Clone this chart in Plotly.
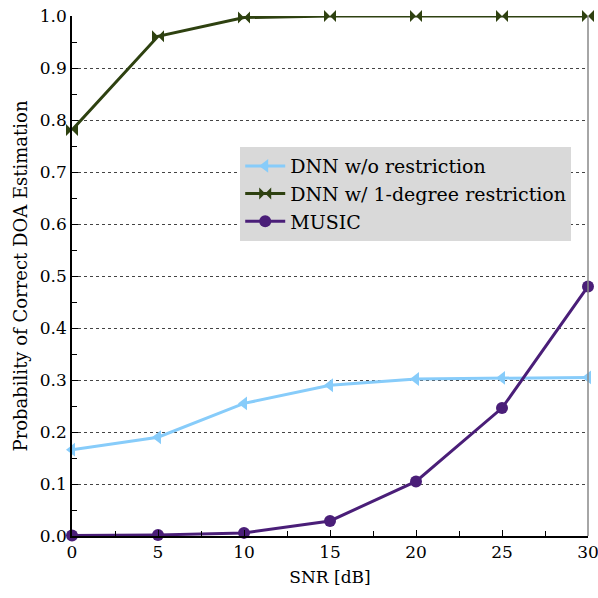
import plotly.graph_objects as go

snr = [0, 5, 10, 15, 20, 25, 30]
dnn_wo = [0.166, 0.19, 0.255, 0.29, 0.302, 0.304, 0.305]
dnn_1deg = [0.781, 0.961, 0.997, 1.0, 1.0, 1.0, 1.0]
music = [0.001, 0.002, 0.006, 0.029, 0.105, 0.246, 0.480]

y_ticks = [0.0, 0.1, 0.2, 0.3, 0.4, 0.5, 0.6, 0.7, 0.8, 0.9, 1.0]
y_tick_labels = ["0.0", "0.1", "0.2", "0.3", "0.4", "0.5", "0.6", "0.7", "0.8", "0.9", "1.0"]
x_ticks = [0, 5, 10, 15, 20, 25, 30]

font_family = "DejaVu Serif, Liberation Serif, serif"

fig = go.Figure()
fig.add_trace(go.Scatter(
    x=snr, y=dnn_wo, name="DNN w/o restriction", mode="lines+markers",
    line=dict(color="#87CCFA", width=3),
    marker=dict(symbol="triangle-left", size=12, color="#87CCFA"),
    cliponaxis=False,
))
fig.add_trace(go.Scatter(
    x=snr, y=dnn_1deg, name="DNN w/ 1-degree restriction", mode="lines+markers",
    line=dict(color="#2E4110", width=3),
    marker=dict(symbol="bowtie", size=12, color="#2E4110"),
    cliponaxis=False,
))
fig.add_trace(go.Scatter(
    x=snr, y=music, name="MUSIC", mode="lines+markers",
    line=dict(color="#4A1E78", width=3),
    marker=dict(symbol="circle", size=12, color="#4A1E78"),
    cliponaxis=False,
))

fig.update_layout(
    width=598, height=598,
    margin=dict(l=72, r=10, t=16, b=62, autoexpand=False),
    plot_bgcolor="white", paper_bgcolor="white",
    font=dict(family=font_family, size=18, color="black"),
    showlegend=True,
    legend=dict(
        x=0.326, y=0.748, xanchor="left", yanchor="top",
        bgcolor="#D9D9D9", borderwidth=0,
        font=dict(family=font_family, size=19, color="black"),
        itemwidth=40, tracegroupgap=0,
    ),
    xaxis=dict(
        range=[0, 30], tickvals=x_ticks, ticktext=[str(v) for v in x_ticks],
        ticks="inside", ticklen=6, tickcolor="black",
        showline=True, linecolor="black", linewidth=1.5,
        mirror=False, showgrid=False, zeroline=False, automargin=False,
        ticklabeloverflow="allow",
        minor=dict(dtick=2.5, ticks="inside", ticklen=5, tickcolor="black"),
        title=dict(text="SNR [dB]", font=dict(size=17), standoff=10),
        tickfont=dict(size=17),
    ),
    yaxis=dict(
        range=[0, 1.0], tickvals=y_ticks, ticktext=y_tick_labels,
        ticks="inside", ticklen=6, tickcolor="black",
        showline=True, linecolor="black", linewidth=1.5,
        showgrid=True, gridcolor="#444444", griddash="dot", gridwidth=1,
        zeroline=False, automargin=False,
        ticklabeloverflow="allow",
        minor=dict(dtick=0.05, ticks="inside", ticklen=5, tickcolor="black", showgrid=False),
        title=dict(text="Probability of Correct DOA Estimation", font=dict(size=18), standoff=8),
        tickfont=dict(size=17),
    ),
)
# right border line
fig.add_shape(type="line", xref="paper", yref="paper", x0=1, x1=1, y0=0, y1=1,
              line=dict(color="#888888", width=1.5))

fig.write_html("out.html", config={"displayModeBar": False},
               post_script="document.body.style.margin='0';")
